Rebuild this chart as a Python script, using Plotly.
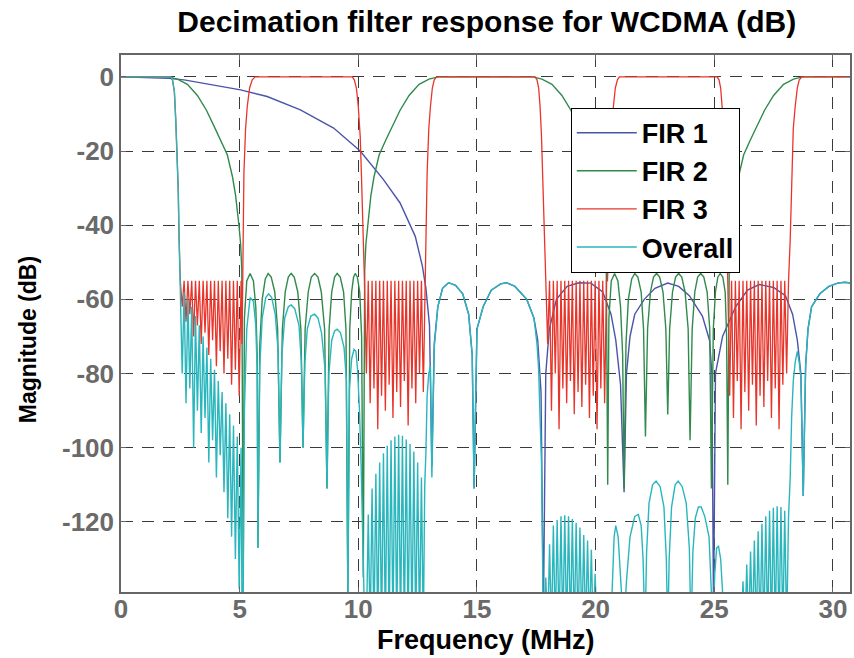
import plotly.graph_objects as go

# ---------------- FIR 1 (blue) ----------------
fir1_freq = [0.0, 1.0, 2.0, 2.66, 3.92, 5.04, 6.16, 7.56, 8.96, 10.08, 11.06, 11.76, 12.4, 12.7, 12.85, 13.0, 13.1,
             13.2, 13.35, 13.55, 13.8, 14.1, 14.4, 14.65, 14.8, 14.88,
             15.0, 15.26, 15.6, 16.0, 16.25, 16.6, 17.1, 17.4, 17.56, 17.7, 17.8,
             17.9, 18.05, 18.35, 18.8, 19.3, 19.8, 20.3, 20.65, 20.85, 21.05, 21.2,
             21.3, 21.45, 21.65, 22.05, 22.5, 23.04, 23.5, 23.95, 24.5, 24.8, 24.9, 24.97,
             25.05, 25.35, 25.9, 26.4, 26.9, 27.5, 28.0, 28.3, 28.5, 28.65, 28.75,
             28.85, 28.95, 29.1, 29.45, 29.83, 30.2, 30.5, 30.72]
fir1_db = [0, -0.1, -0.4, -0.8, -2.2, -3.5, -5.3, -8.9, -13.8, -20.0, -27.7, -34.0, -43.0, -51.0, -57.0, -67.0, -105.0,
           -72, -62, -57, -55.5, -56.2, -58.5, -64, -75, -111,
           -68, -62, -57.5, -55.8, -55.5, -56.5, -60, -65, -71, -85, -145,
           -80, -68, -60, -56.5, -55.5, -55.6, -58, -64, -71, -83, -112,
           -80, -70, -64, -60, -57, -55.6, -56.5, -59, -64.5, -71, -80, -145,
           -80, -70, -62, -57.5, -56, -56.8, -59, -64, -71, -80, -113,
           -78, -68, -62, -58.5, -56.5, -55.6, -55.4, -55.6]

# ---------------- FIR 2 (green) ----------------
fir2_freq = [0.0, 2.0, 2.38, 2.8, 3.22, 3.6, 3.9, 4.2, 4.48, 4.7, 4.83, 4.97, 5.04, 5.09, 5.15,
             5.2, 5.3, 5.44, 5.58, 5.68, 5.74, 5.77,
             5.85, 5.95, 6.08, 6.2, 6.33, 6.48, 6.6, 6.7,
             6.8, 6.92, 7.05, 7.17, 7.3, 7.45, 7.58, 7.67,
             7.76, 7.89, 8.02, 8.16, 8.3, 8.44, 8.58, 8.68,
             8.77, 8.88, 9.0, 9.11, 9.24, 9.38, 9.48, 9.56,
             9.64, 9.72, 9.8, 9.87, 9.96, 10.06, 10.14, 10.21,
             10.27, 10.32, 10.39, 10.53, 10.66, 10.88, 11.16, 11.46, 11.76, 12.14, 12.56, 12.98, 13.36,
             17.36, 17.74, 18.16, 18.58, 18.96, 19.26, 19.56, 19.84, 20.06, 20.19, 20.33, 20.40, 20.45, 20.51,
             20.56, 20.66, 20.8, 20.94, 21.05, 21.14, 21.2,
             21.28, 21.38, 21.52, 21.65, 21.78, 21.92, 22.02, 22.1,
             22.19, 22.31, 22.44, 22.57, 22.7, 22.84, 22.96, 23.04,
             23.12, 23.24, 23.37, 23.5, 23.63, 23.77, 23.9, 23.98,
             24.07, 24.18, 24.3, 24.43, 24.56, 24.7, 24.81, 24.88,
             24.96, 25.05, 25.15, 25.25, 25.36, 25.46, 25.52, 25.57,
             25.63, 25.68, 25.75, 25.89, 26.02, 26.24, 26.52, 26.82, 27.12, 27.5, 27.92, 28.34, 28.72, 30.72]
fir2_db = [0, 0, -0.6, -2, -5, -9, -13, -17, -21, -27, -32, -40, -45, -52, -135,
           -65, -55, -53, -55, -62, -75, -127,
           -72, -60, -54.5, -53, -54, -58, -68, -104,
           -68, -58, -54, -53, -54, -58, -68, -100,
           -68, -58, -54, -53, -54, -58, -68, -111,
           -68, -58, -54, -53, -54, -58, -68, -140,
           -68, -58, -54, -53, -54, -58, -70, -135,
           -52, -45, -40, -32, -27, -21, -17, -13, -9, -5, -2, -0.6, 0,
           0, -0.6, -2, -5, -9, -13, -17, -21, -27, -32, -40, -45, -52, -110,
           -65, -55, -53, -55, -62, -75, -111,
           -72, -60, -54.5, -53, -54, -58, -68, -97,
           -68, -58, -54, -53, -54, -58, -68, -91,
           -68, -58, -54, -53, -54, -58, -68, -98,
           -68, -58, -54, -53, -54, -58, -68, -111,
           -68, -58, -54, -53, -54, -58, -70, -110,
           -52, -45, -40, -32, -27, -21, -17, -13, -9, -5, -2, -0.6, 0, 0]

# ---------------- FIR 3 (red): stopband ripple zeros / tops ----------------
sb0_zero_freq = [2.58, 2.74, 2.90, 3.06, 3.22, 3.38, 3.54, 3.70, 3.86, 4.02, 4.18, 4.34, 4.50, 4.66, 4.82, 4.98]
sb0_top_freq = [2.66, 2.82, 2.98, 3.14, 3.30, 3.46, 3.62, 3.78, 3.94, 4.10, 4.26, 4.42, 4.58, 4.74, 4.90]
sb1_zero_freq = [10.34, 10.50, 10.66, 10.82, 10.98, 11.14, 11.30, 11.46, 11.62, 11.78, 11.94, 12.10, 12.26, 12.42, 12.58, 12.74]
sb1_top_freq = [10.42, 10.58, 10.74, 10.90, 11.06, 11.22, 11.38, 11.54, 11.70, 11.86, 12.02, 12.18, 12.34, 12.50, 12.66]
sb2_zero_freq = [17.98, 18.14, 18.30, 18.46, 18.62, 18.78, 18.94, 19.10, 19.26, 19.42, 19.58, 19.74, 19.90, 20.06, 20.22, 20.38]
sb2_top_freq = [18.06, 18.22, 18.38, 18.54, 18.70, 18.86, 19.02, 19.18, 19.34, 19.50, 19.66, 19.82, 19.98, 20.14, 20.30]
sb3_zero_freq = [25.65, 25.81, 25.97, 26.13, 26.29, 26.45, 26.61, 26.77, 26.93, 27.09, 27.25, 27.41, 27.57, 27.73, 27.89, 28.05]
sb3_top_freq = [25.73, 25.89, 26.05, 26.21, 26.37, 26.53, 26.69, 26.85, 27.01, 27.17, 27.33, 27.49, 27.65, 27.81, 27.97]

fir3_sb0_zero_db = [-62, -66, -64, -70, -67, -72, -69, -75, -71, -78, -74, -80, -76, -83, -79, -86]
fir3_sb1_zero_db = [-80, -88, -84, -95, -86, -90, -83, -92, -85, -89, -82, -94, -84, -88, -80, -85]
fir3_sb2_zero_db = [-72, -90, -80, -95, -84, -88, -82, -91, -85, -89, -83, -92, -86, -95, -84, -88]
fir3_sb3_zero_db = [-86, -92, -82, -95, -85, -90, -83, -94, -86, -89, -82, -92, -84, -95, -83, -80]
fir3_top_db = [-55, -55, -55, -55, -55, -55, -55, -55, -55, -55, -55, -55, -55, -55, -55]

fir3_edge_freq = [0.0, 2.10, 2.17, 2.25, 2.31, 2.37, 2.41, 2.45, 2.50,
                  5.06, 5.10, 5.13, 5.18, 5.25, 5.32, 5.42, 5.53, 5.65,
                  9.75, 9.83, 9.92, 10.00, 10.08, 10.13, 10.20, 10.23, 10.26,
                  12.80, 12.85, 12.90, 12.97, 13.04, 13.12, 13.20, 13.30,
                  17.45, 17.53, 17.60, 17.66, 17.72, 17.77, 17.82, 17.86, 17.90,
                  20.46, 20.50, 20.56, 20.62, 20.68, 20.75, 20.83, 20.92, 21.00,
                  25.12, 25.20, 25.27, 25.33, 25.39, 25.44, 25.49, 25.53, 25.57,
                  28.13, 28.20, 28.26, 28.33, 28.41, 28.50, 28.58, 28.70, 30.72]
fir3_edge_db = [0, 0, -0.8, -4, -12, -22, -30, -44, -55,
                -55, -72, -44, -26, -14, -8, -3, -0.8, 0,
                0, -0.8, -3, -8, -16, -26, -40, -48, -55,
                -55, -44, -26, -14, -8, -3, -0.8, 0,
                0, -0.8, -3, -8, -16, -26, -40, -48, -55,
                -55, -55, -44, -26, -14, -8, -3, -0.8, 0,
                0, -0.8, -3, -8, -16, -26, -40, -48, -55,
                -55, -44, -26, -14, -8, -3, -0.8, 0, 0]

# ---------------- Overall (cyan) ----------------
all_sb0_zero_db = [-80, -88, -84, -100, -90, -96, -92, -104, -98, -108, -102, -112, -119, -124, -130, -138]
all_sb0_top_db = [-58, -60, -62, -64.5, -67, -70, -73, -76, -79, -82, -85, -88, -91, -94, -97]
all_sb1_top_db = [-118, -111, -107, -104, -101.5, -99.5, -98, -97, -96.5, -96.8, -97.8, -99, -101, -104, -108]
all_sb2_top_db = [-126, -121, -119.5, -118.5, -118.2, -118.5, -119.2, -120.2, -121.5, -123.5, -125, -127.5, -134, -140, -146]
all_sb3_top_db = [-160, -152, -142, -136, -131.5, -128, -125, -122.5, -120.5, -118.5, -117, -116.2, -115.8, -116, -117]
all_deep_zero_db = [-150, -150, -150, -150, -150, -150, -150, -150, -150, -150, -150, -150, -150, -150, -150, -150]

all_seg_freq = [0.0, 2.10, 2.17, 2.25, 2.31, 2.37, 2.41, 2.45, 2.50,
                5.06, 5.10, 5.15, 5.2, 5.3, 5.44, 5.58, 5.68, 5.74, 5.77, 5.85, 5.95, 6.1, 6.22, 6.35, 6.5, 6.62,
                6.7, 6.78, 6.9, 7.05, 7.17, 7.32, 7.5, 7.6, 7.67, 7.75, 7.85, 8.0, 8.16, 8.3, 8.45, 8.6, 8.68,
                8.76, 8.88, 9.0, 9.11, 9.25, 9.4, 9.5, 9.56, 9.63, 9.72, 9.82, 9.9, 9.97, 10.05, 10.12, 10.2, 10.26,
                12.8, 12.85, 12.9, 12.97, 13.04, 13.1, 13.2, 13.35, 13.55, 13.8, 14.1, 14.4, 14.65, 14.8, 14.88,
                15.0, 15.26, 15.6, 16.0, 16.25, 16.6, 17.1, 17.4, 17.53, 17.6, 17.66, 17.72, 17.8, 17.9,
                20.46, 20.6, 20.7, 20.78, 20.85, 20.95, 21.08, 21.18, 21.3, 21.45, 21.65, 21.8, 21.92, 22.0, 22.08,
                22.15, 22.25, 22.4, 22.55, 22.72, 22.88, 22.98, 23.04, 23.1, 23.2, 23.35, 23.48, 23.65, 23.82, 23.95,
                24.02, 24.1, 24.2, 24.33, 24.45, 24.6, 24.78, 24.9, 24.95, 25.02, 25.1, 25.18, 25.27, 25.36, 25.42, 25.57,
                28.13, 28.2, 28.26, 28.33, 28.41, 28.5, 28.58, 28.65, 28.75, 28.85, 28.95, 29.1, 29.45, 29.83, 30.2, 30.5, 30.72]
all_seg_db = [0, 0, -0.8, -4, -12, -22, -30, -44, -55.5,
              -100, -145, -140, -90, -68, -59.5, -60.5, -67, -80, -127, -78, -65, -59.5, -58.5, -59.5, -64, -74,
              -104, -75, -65, -62, -61.5, -62.5, -67, -77, -100, -77, -68, -64.5, -64, -65, -69, -79, -111,
              -80, -71, -68.5, -68, -69, -73, -82, -140, -84, -76, -73.5, -74, -79, -90, -105, -135, -145,
              -110, -101, -86, -80, -78, -108, -73, -62, -57, -55.5, -56.2, -58.5, -64, -75, -111,
              -68, -62, -57.5, -55.8, -55.5, -56.5, -60, -65, -72, -79, -92, -104, -150, -135,
              -150, -150, -138, -124, -121, -124, -138, -150, -136, -124, -118.5, -118, -121, -130, -150,
              -128, -115, -110, -109, -110.5, -116, -130, -150, -130, -116, -110, -109, -110.5, -115, -127,
              -150, -128, -119, -116, -116, -118.5, -124, -138, -150, -134, -127, -126.6, -130, -140, -150, -155,
              -118.5, -108, -92, -82, -77, -74, -77, -81, -113, -78, -68, -62, -58.5, -56.5, -55.6, -55.4, -55.6]

x_ticks = [0, 5, 10, 15, 20, 25, 30]
y_ticks = [0, -20, -40, -60, -80, -100, -120]


def assemble(*pairs):
    pts = []
    for xs, ys in pairs:
        pts.extend(zip(xs, ys))
    pts.sort(key=lambda p: p[0])
    return [p[0] for p in pts], [p[1] for p in pts]


fir3_x, fir3_y = assemble((fir3_edge_freq, fir3_edge_db),
                          (sb0_zero_freq, fir3_sb0_zero_db), (sb0_top_freq, fir3_top_db),
                          (sb1_zero_freq, fir3_sb1_zero_db), (sb1_top_freq, fir3_top_db),
                          (sb2_zero_freq, fir3_sb2_zero_db), (sb2_top_freq, fir3_top_db),
                          (sb3_zero_freq, fir3_sb3_zero_db), (sb3_top_freq, fir3_top_db))

all_x, all_y = assemble((all_seg_freq, all_seg_db),
                        (sb0_zero_freq, all_sb0_zero_db), (sb0_top_freq, all_sb0_top_db),
                        (sb1_zero_freq, all_deep_zero_db), (sb1_top_freq, all_sb1_top_db),
                        (sb2_zero_freq, all_deep_zero_db), (sb2_top_freq, all_sb2_top_db),
                        (sb3_zero_freq, all_deep_zero_db), (sb3_top_freq, all_sb3_top_db))

FONT = "Liberation Sans"
fig = go.Figure()
fig.add_trace(go.Scatter(x=fir1_freq, y=fir1_db, mode="lines", name="FIR 1",
                         line=dict(color="#4b55a8", width=1.4)))
fig.add_trace(go.Scatter(x=fir2_freq, y=fir2_db, mode="lines", name="FIR 2",
                         line=dict(color="#2f8a4c", width=1.4)))
fig.add_trace(go.Scatter(x=fir3_x, y=fir3_y, mode="lines", name="FIR 3",
                         line=dict(color="#e8352b", width=1.3)))
fig.add_trace(go.Scatter(x=all_x, y=all_y, mode="lines", name="Overall",
                         line=dict(color="#29b6bd", width=1.4)))

axis_common = dict(
    showgrid=True, gridcolor="#3a3a3a", gridwidth=1, griddash="12px,9px",
    showline=True, linecolor="#666666", linewidth=1.5, mirror="ticks",
    ticks="inside", ticklen=5, tickcolor="#666666",
    zeroline=False,
    tickfont=dict(family=FONT, size=26, color="#6a6a6a", weight="bold"),
)

fig.update_layout(
    width=854, height=658,
    margin=dict(l=121, r=2, t=55, b=66),
    paper_bgcolor="white", plot_bgcolor="white",
    title=dict(text="Decimation filter response for WCDMA (dB)", x=0.57, xref="container",
               y=0.967, yref="container", xanchor="center", yanchor="middle",
               font=dict(family=FONT, size=30, color="black", weight="bold")),
    showlegend=True,
    legend=dict(x=0.617, y=0.902, xanchor="left", yanchor="top",
                bgcolor="white", bordercolor="black", borderwidth=1,
                font=dict(family=FONT, size=27, color="black", weight="bold"),
                itemwidth=60, tracegroupgap=0),
    xaxis=dict(range=[0, 30.72], tickvals=x_ticks, ticktext=[str(v) for v in x_ticks],
               **axis_common),
    yaxis=dict(range=[-138.9, 5.9], tickvals=y_ticks, ticktext=[str(v) for v in y_ticks],
               **axis_common),
    annotations=[
        dict(text="Frequency (MHz)", xref="paper", yref="paper", x=0.5, y=(592 - 640) / 537,
             xanchor="center", yanchor="middle", showarrow=False,
             font=dict(family=FONT, size=27, color="black", weight="bold")),
        dict(text="Magnitude (dB)", xref="paper", yref="paper", x=(28 - 121) / 731, y=(592 - 340) / 537,
             xanchor="center", yanchor="middle", showarrow=False, textangle=-90,
             font=dict(family=FONT, size=23, color="black", weight="bold")),
    ],
)

try:
    fig.update_xaxes(ticklabelstandoff=-7)
except Exception:
    pass

fig.write_html("out.html", config={"displayModeBar": False},
               post_script="document.body.style.margin='0px';")
